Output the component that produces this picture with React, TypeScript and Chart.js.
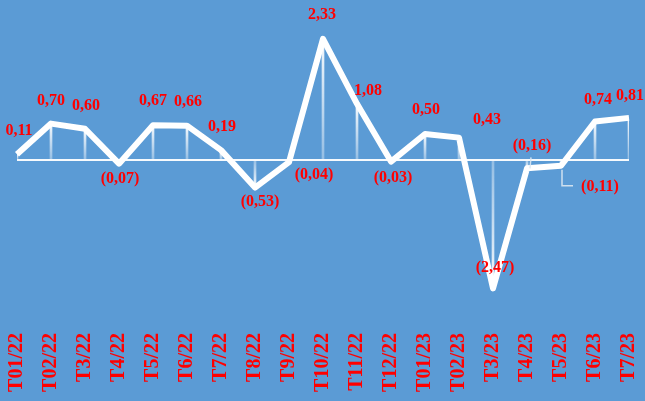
import React, { useEffect, useRef } from "react";
import { Chart, registerables } from "chart.js";

Chart.register(...registerables);

const categories = ["T01/22", "T02/22", "T3/22", "T4/22", "T5/22", "T6/22", "T7/22", "T8/22", "T9/22", "T10/22", "T11/22", "T12/22", "T01/23", "T02/23", "T3/23", "T4/23", "T5/23", "T6/23", "T7/23"];
const values = [0.11, 0.70, 0.60, -0.07, 0.67, 0.66, 0.19, -0.53, -0.04, 2.33, 1.08, -0.03, 0.50, 0.43, -2.47, -0.16, -0.11, 0.74, 0.81];

// label placement offsets (pixels) relative to each point
const labelOffsets: [number, number][] = [
  [2, -23], [0, -23], [1, -23], [1, 15], [0, -24], [1, -24], [1, -23], [5, 14], [25, 13], [-1, -24],
  [11, -13], [2, 16], [1, -24], [28, -18], [2, -21], [5, -22], [39, 21], [3, -22], [1, -22],
];

const FONT = '"Liberation Serif", "Times New Roman", serif';
const RED = "#FF0000";
const BG = "#5B9BD5";

function fmt(v: number): string {
  const s = Math.abs(v).toFixed(2).replace(".", ",");
  return v < 0 ? `(${s})` : s;
}

const labelPlugin = {
  id: "valueLabels",
  afterDatasetsDraw(chart: any) {
    const meta = chart.getDatasetMeta(1);
    const ctx = chart.ctx;
    ctx.save();
    // leader lines
    ctx.strokeStyle = "rgba(220,232,242,0.9)";
    ctx.lineWidth = 1.5;
    const p16 = meta.data[16];
    if (p16) {
      ctx.beginPath();
      ctx.moveTo(p16.x + 1, p16.y + 4);
      ctx.lineTo(p16.x + 1, p16.y + 20);
      ctx.lineTo(p16.x + 12, p16.y + 20);
      ctx.stroke();
    }
    const p15 = meta.data[15];
    if (p15) {
      ctx.beginPath();
      ctx.moveTo(p15.x + 4, p15.y - 11);
      ctx.lineTo(p15.x + 3, p15.y);
      ctx.stroke();
    }
    ctx.fillStyle = RED;
    ctx.font = `bold 16px ${FONT}`;
    ctx.textAlign = "center";
    ctx.textBaseline = "middle";
    meta.data.forEach((pt: any, i: number) => {
      const [dx, dy] = labelOffsets[i];
      ctx.fillText(fmt(values[i]), pt.x + dx, pt.y + dy);
    });
    ctx.restore();
  },
};

export default function App() {
  const ref = useRef<HTMLCanvasElement | null>(null);
  useEffect(() => {
    if (!ref.current) return;
    const chart = new Chart(ref.current, {
      data: {
        labels: categories,
        datasets: [
          {
            type: "bar",
            data: values,
            barThickness: 2,
            order: 2,
            backgroundColor: (c: any) => {
              const ch = c.chart;
              const y = ch.scales && ch.scales.y;
              if (!y || c.type !== "data" || !ch.chartArea) return "rgba(255,255,255,0.8)";
              const v = values[c.dataIndex];
              const y0 = y.getPixelForValue(0);
              const y1 = y.getPixelForValue(v);
              if (Math.abs(y0 - y1) < 1) return "rgba(255,255,255,0.8)";
              const g = ch.ctx.createLinearGradient(0, y1, 0, y0);
              g.addColorStop(0, "rgba(255,255,255,0.95)");
              g.addColorStop(1, "rgba(255,255,255,0.35)");
              return g;
            },
          } as any,
          {
            type: "line",
            data: values,
            order: 1,
            borderColor: "#FFFFFF",
            borderWidth: 6,
            borderJoinStyle: "round",
            pointRadius: 0,
            tension: 0,
            fill: false,
          } as any,
        ],
      },
      options: {
        animation: false,
        responsive: false,
        maintainAspectRatio: false,
        layout: { padding: { left: 17, right: 16, top: 4, bottom: 0 } },
        plugins: { legend: { display: false }, tooltip: { enabled: false } },
        scales: {
          x: {
            type: "category",
            offset: false,
            grid: { display: false, drawTicks: false },
            border: { display: false },
            ticks: {
              color: RED,
              font: { family: FONT, size: 20, weight: "bold" },
              minRotation: 90,
              maxRotation: 90,
              autoSkip: false,
              padding: 17,
            },
            afterFit: (s: any) => {
              s.height = 85;
              s.paddingLeft = 0;
              s.paddingRight = 0;
            },
          },
          y: {
            min: -3,
            max: 3,
            ticks: { display: false, stepSize: 1 },
            border: { display: false },
            grid: {
              drawTicks: false,
              lineWidth: 2,
              color: (c: any) => (c.tick && c.tick.value === 0 ? "rgba(255,255,255,0.95)" : "rgba(0,0,0,0)"),
            },
            afterFit: (s: any) => {
              s.width = 0;
            },
          },
        },
      },
      plugins: [labelPlugin],
    } as any);
    return () => chart.destroy();
  }, []);
  return (
    <div style={{ position: "fixed", left: 0, top: 0, width: 645, height: 401, background: BG }}>
      <canvas ref={ref} width={645} height={401} style={{ width: 645, height: 401, display: "block" }} />
    </div>
  );
}
